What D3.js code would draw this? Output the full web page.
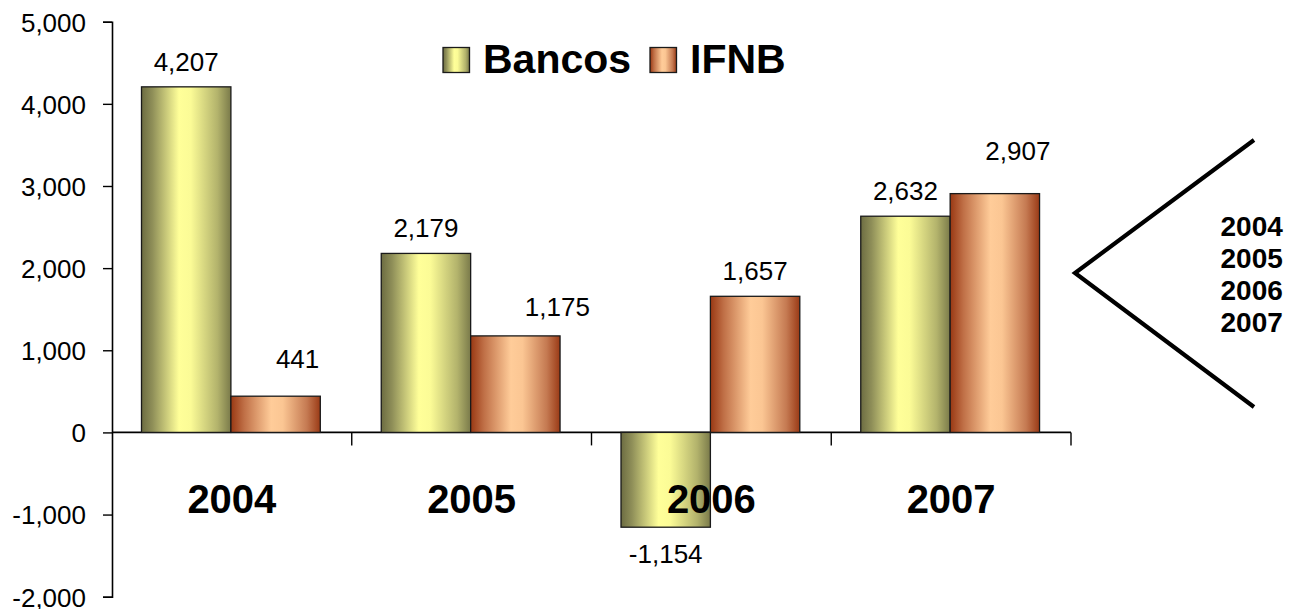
<!DOCTYPE html>
<html>
<head>
<meta charset="utf-8">
<script src="https://cdn.jsdelivr.net/npm/d3@7"></script>
<style>
  html, body { margin: 0; padding: 0; background: #fff; }
  svg { display: block; font-family: "Liberation Sans", Arial, sans-serif; }
</style>
</head>
<body>
<svg id="chart" width="1289" height="609"></svg>
<script>
// ---- data ----
const categories = ["2004", "2005", "2006", "2007"];
const seriesNames = ["Bancos", "IFNB"];
const bancos = [4207, 2179, -1154, 2632];
const ifnb = [441, 1175, 1657, 2907];
const yTicks = [-2000, -1000, 0, 1000, 2000, 3000, 4000, 5000];
const sideLabels = ["2004", "2005", "2006", "2007"];

// ---- layout (not data) ----
const ifnbLabelNudge = [[22, -12], [42, -4], [0, 0], [23, -18]];
const font = '"Liberation Sans", Arial, sans-serif';
const fmt = d3.formatLocale({ decimal: ".", thousands: ",", grouping: [3], currency: ["$", ""], minus: "-" }).format(",");

const svg = d3.select("#chart");
const defs = svg.append("defs");

function grad(id, stops) {
  const g = defs.append("linearGradient").attr("id", id)
    .attr("x1", "0%").attr("x2", "100%").attr("y1", "0%").attr("y2", "0%");
  stops.forEach(([o, c]) => g.append("stop").attr("offset", o).attr("stop-color", c));
}
grad("gBancos", [[0, "#6c6c42"], [0.12, "#8e8e58"], [0.42, "#ffff99"], [0.55, "#fbfb96"], [0.85, "#b3b36c"], [1, "#7a7a4a"]]);
grad("gIfnb", [[0, "#993813"], [0.15, "#c07047"], [0.45, "#ffcc99"], [0.58, "#fbc693"], [0.85, "#c57a52"], [1, "#9a3a16"]]);
const fills = ["url(#gBancos)", "url(#gIfnb)"];

const y = d3.scaleLinear().domain([-2000, 5000]).range([596.7, 21.7]);
const x0 = d3.scaleBand().domain(categories).range([112, 1071]).padding(0);
const bw = x0.bandwidth();
const barW = 89.4;
const x1 = d3.scaleBand().domain(seriesNames).range([29.5, 29.5 + 2 * barW]).padding(0);

// axes
const yAxis = d3.axisLeft(y).tickValues(yTicks).tickFormat(fmt).tickSize(9).tickPadding(17);
const gy = svg.append("g").attr("transform", "translate(112,0)").call(yAxis);
gy.select(".domain").attr("stroke", "#000").attr("stroke-width", 1.6);
gy.selectAll(".tick line").attr("stroke", "#000").attr("stroke-width", 1.4);
gy.selectAll(".tick text").attr("font-size", 26).attr("font-family", font).attr("fill", "#000").attr("dy", "0.36em");

// x axis line at zero
svg.append("line").attr("x1", 112).attr("x2", 1071).attr("y1", y(0)).attr("y2", y(0))
  .attr("stroke", "#000").attr("stroke-width", 1.6);
svg.selectAll(".xtick").data(categories).enter().append("line")
  .attr("x1", d => x0(d) + bw).attr("x2", d => x0(d) + bw)
  .attr("y1", y(0)).attr("y2", y(0) + 13)
  .attr("stroke", "#000").attr("stroke-width", 1.4);

// bars
const rows = categories.map((c, i) => ({ c, i, vals: [bancos[i], ifnb[i]] }));
const groups = svg.selectAll(".grp").data(rows).enter().append("g")
  .attr("transform", d => `translate(${x0(d.c)},0)`);

groups.selectAll("rect").data(d => d.vals.map((v, s) => ({ v, s, i: d.i })))
  .enter().append("rect")
  .attr("x", d => x1(seriesNames[d.s]))
  .attr("width", x1.bandwidth())
  .attr("y", d => y(Math.max(0, d.v)))
  .attr("height", d => Math.abs(y(d.v) - y(0)))
  .attr("fill", d => fills[d.s])
  .attr("stroke", "#1a1a1a").attr("stroke-width", 1.3);

// value labels
groups.selectAll(".vl").data(d => d.vals.map((v, s) => ({ v, s, i: d.i })))
  .enter().append("text")
  .attr("x", d => x1(seriesNames[d.s]) + x1.bandwidth() / 2 + (d.s === 1 ? ifnbLabelNudge[d.i][0] : 0))
  .attr("y", d => d.v >= 0
      ? y(d.v) - 16 + (d.s === 1 ? ifnbLabelNudge[d.i][1] : 0)
      : y(d.v) + 36)
  .attr("text-anchor", "middle")
  .attr("font-size", 26).attr("font-family", font).attr("fill", "#000")
  .text(d => fmt(d.v));

// category labels
svg.selectAll(".cat").data(categories).enter().append("text")
  .attr("x", d => x0(d) + bw / 2)
  .attr("y", 512.7)
  .attr("text-anchor", "middle")
  .attr("font-size", 40).attr("font-weight", "bold").attr("font-family", font).attr("fill", "#000")
  .text(d => d);

// legend
const legendX = [443, 650];
seriesNames.forEach((n, s) => {
  svg.append("rect").attr("x", legendX[s]).attr("y", 47.5).attr("width", 26.5).attr("height", 25)
    .attr("fill", fills[s]).attr("stroke", "#1a1a1a").attr("stroke-width", 1.3);
  svg.append("text").attr("x", legendX[s] + 40).attr("y", 73)
    .attr("font-size", 41).attr("font-weight", "bold").attr("font-family", font).attr("fill", "#000")
    .text(n);
});

// side bracket
svg.append("path")
  .attr("d", d3.line()([[1254, 140], [1075, 273], [1254, 407]]))
  .attr("fill", "none").attr("stroke", "#000").attr("stroke-width", 4.2);

svg.selectAll(".side").data(sideLabels).enter().append("text")
  .attr("x", 1220.5)
  .attr("y", (d, i) => 235.5 + i * 32.2)
  .attr("font-size", 28).attr("font-weight", "bold").attr("font-family", font).attr("fill", "#000")
  .text(d => d);
</script>
</body>
</html>
